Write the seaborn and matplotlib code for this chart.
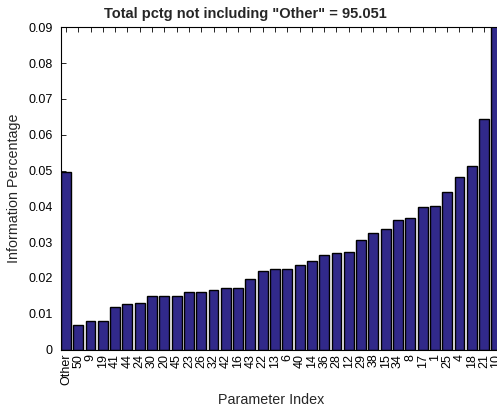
import matplotlib
matplotlib.use("Agg")
import matplotlib.pyplot as plt
import seaborn as sns
import pandas as pd

params = ["Other", "50", "9", "19", "41", "44", "24", "30", "20", "45", "23", "26",
          "32", "42", "16", "43", "22", "13", "6", "40", "14", "36", "28", "12",
          "29", "38", "15", "34", "8", "17", "1", "25", "4", "18", "21", "10"]
info_pct = [0.0495, 0.0068, 0.0080, 0.0080, 0.0120, 0.0127, 0.0130, 0.0150, 0.0150,
            0.0150, 0.0161, 0.0162, 0.0167, 0.0172, 0.0173, 0.0198, 0.0219, 0.0226,
            0.0226, 0.0236, 0.0246, 0.0263, 0.0269, 0.0272, 0.0306, 0.0325, 0.0337,
            0.0363, 0.0368, 0.0398, 0.0402, 0.0441, 0.0481, 0.0513, 0.0644, 0.0950]
yticks = [0, 0.01, 0.02, 0.03, 0.04, 0.05, 0.06, 0.07, 0.08, 0.09]
ytick_labels = ["0", "0.01", "0.02", "0.03", "0.04", "0.05", "0.06", "0.07", "0.08", "0.09"]
title = 'Total pctg not including "Other" = 95.051'

df = pd.DataFrame({"param": params, "pct": info_pct})

sns.set_style("ticks")
plt.rcParams["font.family"] = ["Liberation Sans", "DejaVu Sans"]

W, H = 497, 408
fig = plt.figure(figsize=(W / 100, H / 100), dpi=100)
ax = fig.add_axes([61 / W, (H - 349.5) / H, 440.3 / W, 322.2 / H])

sns.barplot(data=df, x="param", y="pct", order=params, color="#31298A",
            saturation=1, edgecolor="black", linewidth=1.0, width=0.8, ax=ax)

ax.set_xlim(-0.4, len(params) - 0.6)
ax.set_ylim(0, 0.09)
ax.set_yticks(yticks)
ax.set_yticklabels(ytick_labels)
ax.tick_params(axis="both", direction="in", length=3.5, width=0.6, labelsize=9,
               top=True, right=True, colors="black")
ax.tick_params(axis="x", labelrotation=90, pad=3)
ax.tick_params(axis="y", pad=6)
for s in ax.spines.values():
    s.set_linewidth(0.8)
    s.set_color("black")

ax.set_xlabel("Parameter Index", fontsize=10.3)
ax.set_ylabel("Information Percentage", fontsize=10.3)
ax.xaxis.set_label_coords((271 - 61) / 440.3, -(400 - 349.5) / 322.2)
ax.yaxis.set_label_coords(-(61 - 14) / 440.3, 0.5)
ax.xaxis.label.set_va("center")
ax.yaxis.label.set_va("center")

fig.text(245 / W, 1 - 14 / H, title, ha="center", va="center",
         fontsize=10.5, fontweight="bold")

fig.savefig("out.png", dpi=100)
